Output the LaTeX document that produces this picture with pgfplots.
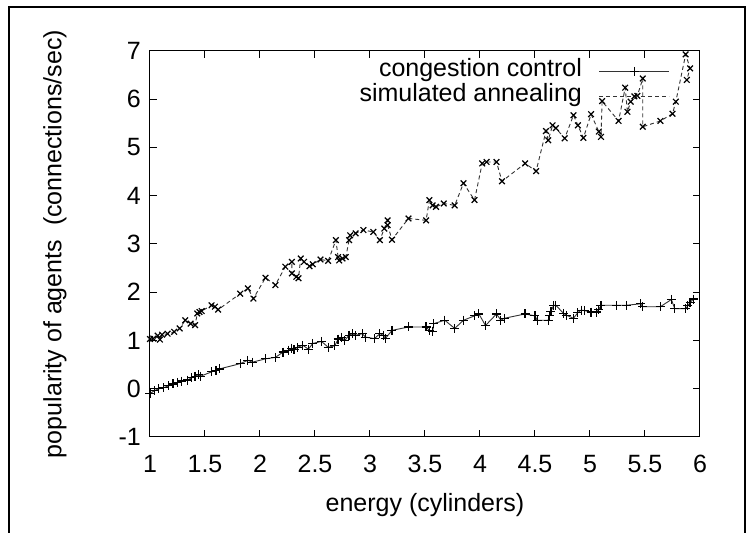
\documentclass[border=0pt]{standalone}
\usepackage{fontspec}
\setmainfont{Liberation Sans}
\usepackage{pgfplots}
\pgfplotsset{compat=1.18}
\begin{document}
\begin{tikzpicture}
\useasboundingbox (0pt,0pt) rectangle (748pt,533pt);
\draw[line width=1.5pt] (9pt,0pt) -- (9pt,526pt) -- (745pt,526pt) -- (745pt,0pt);
\begin{axis}[
  at={(150pt,96pt)}, anchor=south west,
  width=550pt, height=386pt, scale only axis,
  xmin=1, xmax=6, ymin=-1, ymax=7,
  clip=false,
  xtick={1,1.5,2,2.5,3,3.5,4,4.5,5,5.5,6},
  xticklabels={1,1.5,2,2.5,3,3.5,4,4.5,5,5.5,6},
  ytick={-1,0,1,2,3,4,5,6,7},
  yticklabels={-1,0,1,2,3,4,5,6,7},
  tick align=inside, xtick pos=both, ytick pos=both,
  major tick length=7pt,
  every tick/.style={black, line width=1pt},
  axis line style={line width=1pt},
  tick label style={font=\fontsize{25}{30}\selectfont, inner sep=0pt},
  xticklabel style={anchor=north, yshift=-18pt},
  yticklabel style={anchor=east, xshift=-9pt},
  xlabel={energy (cylinders)},
  xlabel style={font=\fontsize{25}{30}\selectfont, at={(axis description cs:0.5,-0.145)}, anchor=north, inner sep=0pt},
  ylabel={popularity of agents~~(connections/sec)},
  ylabel style={font=\fontsize{25}{30}\selectfont, at={(axis description cs:-0.1727,0.5)}, anchor=center, inner sep=0pt},
  legend style={at={(axis description cs:0.9455,0.98)}, anchor=north east, draw=none, fill=none,
    font=\fontsize{25}{25}\selectfont, inner sep=0pt, row sep=0pt, column sep=17pt,
    nodes={inner sep=0pt, text height=18pt, text depth=7pt}},
  legend cell align=right, legend plot pos=right,
  legend image code/.code={\draw[mark repeat=2,mark phase=2,#1] plot coordinates {(0pt,0pt) (35pt,0pt) (70pt,0pt)};},
]
\addplot[black!80, line width=0.9pt, mark=+, mark size=4.5pt, mark options={black, solid, line width=1.2pt}] coordinates {
(1.00,-0.10) (1.04,-0.04) (1.08,0.00) (1.12,0.02) (1.17,0.06) (1.21,0.10) (1.25,0.13) (1.29,0.16)
(1.34,0.18) (1.38,0.23) (1.41,0.26) (1.44,0.29) (1.46,0.26) (1.56,0.35) (1.60,0.38) (1.63,0.41)
(1.82,0.52) (1.89,0.59) (1.93,0.55) (2.05,0.62) (2.14,0.65) (2.21,0.76) (2.26,0.80) (2.29,0.84)
(2.31,0.81) (2.34,0.86) (2.39,0.90) (2.44,0.82) (2.48,0.94) (2.56,0.98) (2.62,0.86) (2.68,0.89)
(2.71,1.03) (2.74,1.07) (2.77,1.00) (2.81,1.11) (2.84,1.14) (2.87,1.11) (2.93,1.14) (2.96,1.07)
(3.04,1.04) (3.09,1.14) (3.12,1.11) (3.14,1.04) (3.20,1.21) (3.35,1.28) (3.51,1.28) (3.54,1.21)
(3.57,1.18) (3.58,1.35) (3.68,1.42) (3.77,1.25) (3.85,1.42) (3.95,1.51) (3.99,1.55) (4.05,1.31)
(4.15,1.55) (4.19,1.42) (4.22,1.46) (4.41,1.55) (4.50,1.51) (4.52,1.42) (4.62,1.42) (4.63,1.52)
(4.645,1.60) (4.67,1.73) (4.69,1.73) (4.76,1.56) (4.79,1.52) (4.85,1.46) (4.89,1.58) (4.92,1.63)
(4.95,1.62) (5.01,1.59) (5.06,1.59) (5.08,1.64) (5.10,1.73) (5.24,1.73) (5.33,1.73) (5.46,1.76)
(5.48,1.70) (5.64,1.70) (5.74,1.85) (5.77,1.66) (5.87,1.66) (5.89,1.72) (5.91,1.79) (5.94,1.86)
};
\addlegendentry{congestion control}
\addplot[black!80, line width=0.9pt, dash pattern=on 4pt off 3pt, mark=x, mark size=4pt, mark options={black, solid, line width=1.2pt}] coordinates {
(1.00,1.03) (1.03,1.04) (1.07,1.10) (1.09,1.02) (1.11,1.12) (1.16,1.14) (1.22,1.18) (1.27,1.25)
(1.32,1.42) (1.37,1.35) (1.41,1.32) (1.43,1.56) (1.45,1.59) (1.47,1.61) (1.56,1.73) (1.59,1.70)
(1.62,1.64) (1.82,1.97) (1.89,2.08) (1.94,1.87) (2.05,2.30) (2.14,2.15) (2.23,2.53) (2.29,2.63)
(2.29,2.39) (2.33,2.32) (2.35,2.29) (2.37,2.70) (2.40,2.63) (2.45,2.54) (2.48,2.58) (2.55,2.68)
(2.62,2.65) (2.69,3.08) (2.71,2.73) (2.72,2.66) (2.75,2.70) (2.78,2.73) (2.81,3.08) (2.82,3.18)
(2.87,3.22) (2.94,3.29) (3.03,3.25) (3.09,3.08) (3.13,3.32) (3.16,3.49) (3.16,3.39) (3.20,3.09)
(3.35,3.53) (3.51,3.49) (3.54,3.91) (3.57,3.80) (3.60,3.77) (3.67,3.84) (3.77,3.80) (3.85,4.26)
(3.95,3.91) (4.02,4.67) (4.06,4.70) (4.15,4.70) (4.20,4.30) (4.41,4.67) (4.51,4.51) (4.60,5.34)
(4.62,5.15) (4.66,5.46) (4.69,5.40) (4.77,5.19) (4.85,5.67) (4.89,5.46) (4.94,5.20) (5.01,5.69)
(5.08,5.33) (5.10,5.22) (5.11,5.96) (5.26,5.55) (5.32,6.24) (5.34,5.74) (5.37,5.95) (5.43,6.07)
(5.48,6.43) (5.48,5.43) (5.64,5.55) (5.75,5.70) (5.78,5.95) (5.87,6.93) (5.91,6.64) (5.88,6.40)
};
\addlegendentry{simulated annealing}
\end{axis}
\end{tikzpicture}
\end{document}
